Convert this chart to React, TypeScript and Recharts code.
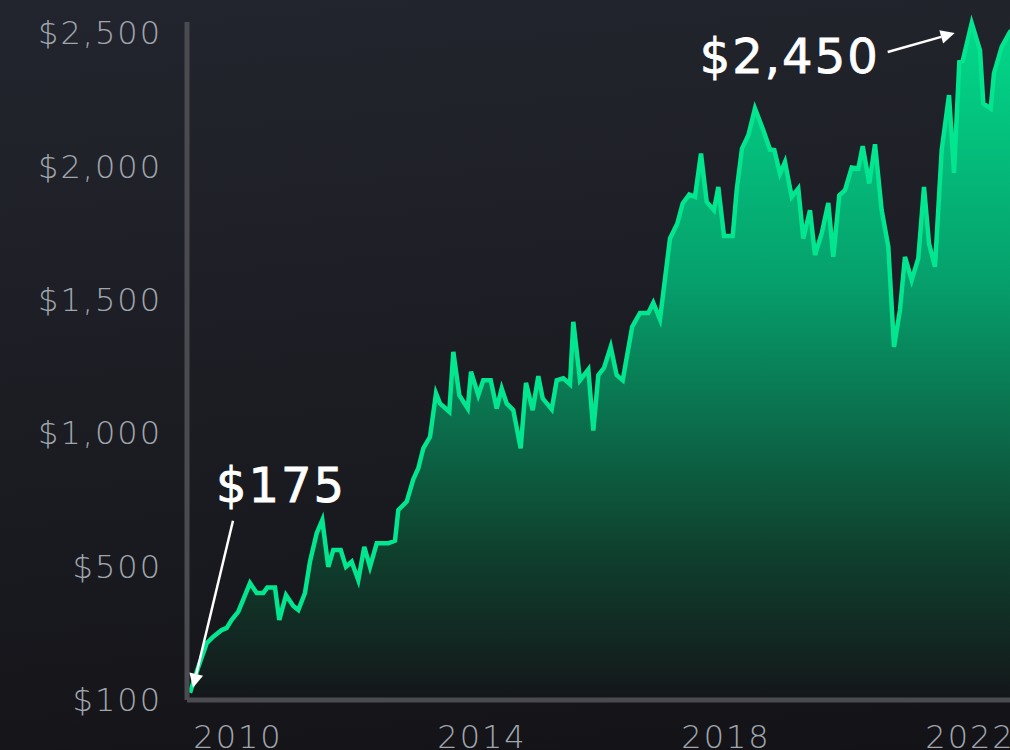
import { AreaChart, Area, XAxis, YAxis, ReferenceDot } from 'recharts'

// decimal years of each price point
const YEARS = [
  2009.213, 2009.344, 2009.487, 2009.595, 2009.733, 2009.815, 2009.897, 2010.005,
  2010.197, 2010.307, 2010.415, 2010.48, 2010.607, 2010.677, 2010.787, 2010.907,
  2010.989, 2011.098, 2011.18, 2011.29, 2011.382, 2011.48, 2011.562, 2011.684,
  2011.77, 2011.864, 2011.972, 2012.07, 2012.164, 2012.274, 2012.464, 2012.574,
  2012.628, 2012.766, 2012.874, 2012.956, 2013.038, 2013.148, 2013.246, 2013.311,
  2013.464, 2013.53, 2013.628, 2013.766, 2013.82, 2013.939, 2014.021, 2014.143,
  2014.241, 2014.323, 2014.405, 2014.513, 2014.634, 2014.721, 2014.831, 2014.923,
  2014.995, 2015.143, 2015.225, 2015.333, 2015.443, 2015.497, 2015.607, 2015.743,
  2015.825, 2015.907, 2016.0, 2016.11, 2016.208, 2016.307, 2016.462, 2016.59,
  2016.726, 2016.808, 2016.918, 2017.082, 2017.202, 2017.29, 2017.398, 2017.492,
  2017.59, 2017.684, 2017.803, 2017.874, 2017.967, 2018.11, 2018.175, 2018.262,
  2018.366, 2018.475, 2018.611, 2018.721, 2018.792, 2018.885, 2018.967, 2019.077,
  2019.185, 2019.267, 2019.377, 2019.459, 2019.569, 2019.677, 2019.759, 2019.857,
  2019.951, 2020.061, 2020.169, 2020.241, 2020.349, 2020.443, 2020.552, 2020.661,
  2020.754, 2020.852, 2020.934, 2021.044, 2021.152, 2021.246, 2021.328, 2021.426,
  2021.536, 2021.656, 2021.738, 2021.825, 2021.88, 2022.028, 2022.164, 2022.218,
  2022.339, 2022.393, 2022.52, 2022.656, 2022.754,
]

const PRICES = [
  27, 120, 213, 237, 262, 270, 300, 331,
  438, 401, 401, 421, 421, 300, 393, 352,
  337, 401, 518, 625, 674, 499, 562, 562,
  499, 518, 449, 574, 499, 587, 587, 597,
  712, 743, 827, 868, 943, 986, 1149, 1111,
  1080, 1304, 1142, 1092, 1230, 1142, 1198, 1198,
  1092, 1167, 1111, 1086, 943, 1188, 1086, 1213,
  1130, 1089, 1198, 1205, 1183, 1417, 1198, 1238,
  1009, 1217, 1244, 1323, 1217, 1198, 1398, 1450,
  1450, 1488, 1426, 1729, 1785, 1860, 1894, 1885,
  2047, 1866, 1835, 1922, 1738, 1738, 1910, 2066,
  2116, 2216, 2135, 2062, 2060, 1972, 2016, 1885,
  1916, 1729, 1835, 1667, 1748, 1862, 1660, 1891,
  1910, 1995, 1991, 2075, 1935, 2082, 1835, 1698,
  1323, 1461, 1660, 1573, 1654, 1922, 1710, 1623,
  2060, 2266, 1975, 2390, 2394, 2536, 2434, 2235,
  2216, 2347, 2447, 2503, 2520,
]

const Y_TICKS = [0, 500, 1000, 1500, 2000, 2500]
const Y_TICK_LABELS = ['$100', '$500', '$1,000', '$1,500', '$2,000', '$2,500']
const X_TICKS = [2010, 2014, 2018, 2022]

const START_LABEL = '$175'
const PEAK_LABEL = '$2,450'

const data = YEARS.map((t, i) => ({ t, price: PRICES[i] }))
const startPoint = data[0]
const peakPoint = data.reduce((a, b) => (b.price > a.price ? b : a))

const THIN_FONT = "'DejaVu Sans ExtraLight', 'DejaVu Sans Light', 'DejaVu Sans', sans-serif"
const FONT = "'DejaVu Sans', sans-serif"
const tickStyle = { fill: '#a0a6ae', fontSize: 32, fontFamily: THIN_FONT, fontWeight: 200, letterSpacing: 2 }

const Arrow = ({ x1, y1, x2, y2 }: { x1: number; y1: number; x2: number; y2: number }) => {
  const a = Math.atan2(y2 - y1, x2 - x1)
  const len = 14
  const w = 7
  const bx = x2 - len * Math.cos(a)
  const by = y2 - len * Math.sin(a)
  const pts = [
    [x2, y2],
    [bx + w * Math.sin(a), by - w * Math.cos(a)],
    [bx - w * Math.sin(a), by + w * Math.cos(a)],
  ]
  return (
    <g>
      <line x1={x1} y1={y1} x2={bx} y2={by} stroke="#ffffff" strokeWidth={2.5} />
      <polygon points={pts.map((p) => p.join(',')).join(' ')} fill="#ffffff" />
    </g>
  )
}

const labelStyle = {
  fill: '#ffffff',
  stroke: '#ffffff',
  strokeWidth: 0.8,
  fontSize: 48,
  fontFamily: FONT,
  letterSpacing: 2,
}

const StartNote = (p: any) => (
  <g>
    <text x={p.cx + 26} y={p.cy - 191} {...labelStyle}>{START_LABEL}</text>
    <Arrow x1={p.cx + 43} y1={p.cy - 172} x2={p.cx + 3} y2={p.cy - 5} />
  </g>
)

const PeakNote = (p: any) => (
  <g>
    <text x={p.cx - 92} y={p.cy + 50} textAnchor="end" {...labelStyle}>{PEAK_LABEL}</text>
    <Arrow x1={p.cx - 84} y1={p.cy + 29} x2={p.cx - 17} y2={p.cy + 10} />
  </g>
)

export default function App() {
  return (
    <div
      style={{
        position: 'fixed',
        left: 0,
        top: 0,
        width: 1010,
        height: 750,
        overflow: 'hidden',
        background: 'linear-gradient(175deg, #23252e 0%, #1b1c22 55%, #131317 100%)',
      }}
    >
      <AreaChart width={1102} height={750} data={data} margin={{ top: 22, right: 0, bottom: 0, left: 0 }}>
        <defs>
          <linearGradient id="fillGrad" x1="0" y1="0" x2="0" y2="1">
            <stop offset="0%" stopColor="#02d98a" />
            <stop offset="38%" stopColor="#06a06c" />
            <stop offset="55%" stopColor="#0a7852" />
            <stop offset="78%" stopColor="#0f402e" />
            <stop offset="100%" stopColor="#141619" />
          </linearGradient>
        </defs>
        <XAxis
          type="number"
          dataKey="t"
          domain={[2009.164, 2024.164]}
          ticks={X_TICKS}
          allowDataOverflow
          height={50}
          tickLine={false}
          tickMargin={19}
          axisLine={{ stroke: '#4a4b51', strokeWidth: 5 }}
          tick={tickStyle}
        />
        <YAxis
          type="number"
          domain={[0, 2540]}
          ticks={Y_TICKS}
          width={187}
          tickLine={false}
          tickMargin={19}
          axisLine={{ stroke: '#4a4b51', strokeWidth: 5 }}
          tick={tickStyle}
          tickFormatter={(v: number) => Y_TICK_LABELS[Y_TICKS.indexOf(v)]}
        />
        <Area
          type="linear"
          dataKey="price"
          stroke="#02e68f"
          strokeWidth={4.5}
          fill="url(#fillGrad)"
          fillOpacity={1}
          dot={false}
          activeDot={false}
          isAnimationActive={false}
        />
        <ReferenceDot x={startPoint.t} y={startPoint.price} r={0} shape={StartNote} />
        <ReferenceDot x={peakPoint.t} y={peakPoint.price} r={0} shape={PeakNote} />
      </AreaChart>
    </div>
  )
}
